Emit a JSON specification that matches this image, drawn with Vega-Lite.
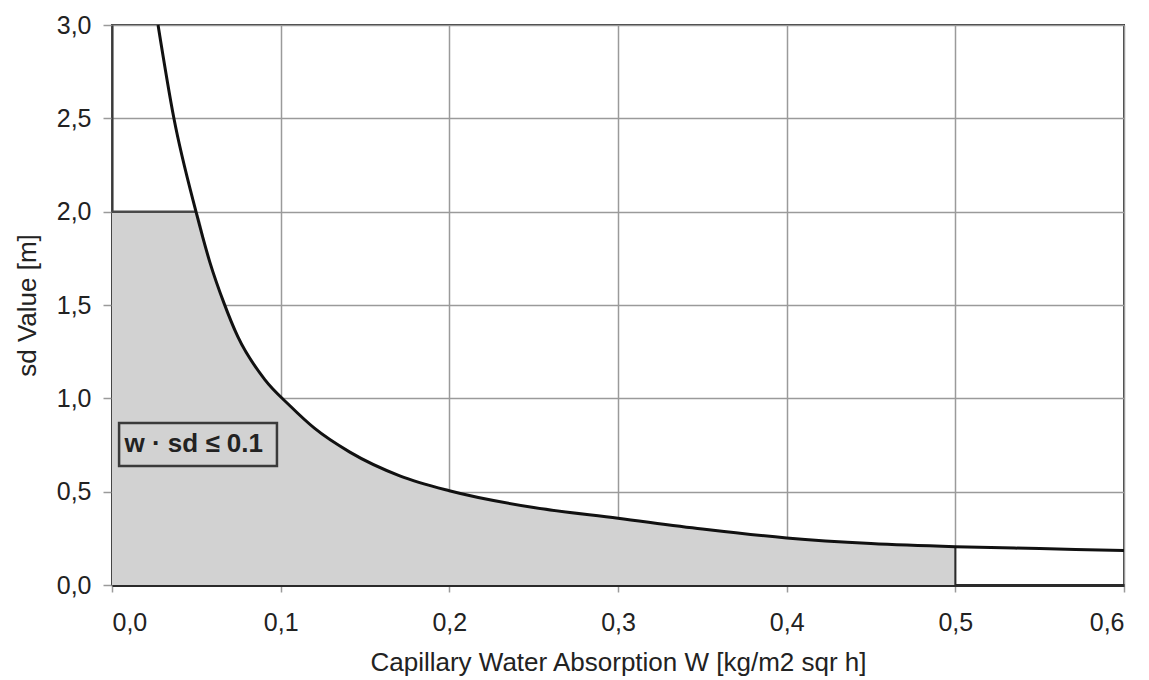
{
  "$schema": "https://vega.github.io/schema/vega-lite/v6.json",
  "width": 1012,
  "height": 560,
  "autosize": {"type": "none"},
  "padding": {"left": 112, "top": 25, "right": 25, "bottom": 95},
  "background": "white",
  "config": {
    "font": "Liberation Sans",
    "view": {"stroke": "#3a3a3a", "strokeWidth": 2},
    "axis": {
      "gridColor": "#9a9a9a",
      "gridWidth": 1.5,
      "gridOpacity": 1,
      "tickColor": "#9a9a9a",
      "tickWidth": 1.5,
      "tickSize": 8,
      "labelFont": "Liberation Sans",
      "labelFontSize": 25,
      "labelColor": "#222222",
      "titleFont": "Liberation Sans",
      "titleFontSize": 26,
      "titleFontWeight": "normal",
      "titleColor": "#222222"
    }
  },
  "datasets": {
    "curve": [
      {"w": 0.0273, "sd": 3.0},
      {"w": 0.0367, "sd": 2.5},
      {"w": 0.0498, "sd": 2.0},
      {"w": 0.058, "sd": 1.73},
      {"w": 0.0664, "sd": 1.51},
      {"w": 0.0746, "sd": 1.33},
      {"w": 0.0906, "sd": 1.1},
      {"w": 0.1055, "sd": 0.96},
      {"w": 0.12, "sd": 0.84},
      {"w": 0.141, "sd": 0.712},
      {"w": 0.1706, "sd": 0.585},
      {"w": 0.2, "sd": 0.505},
      {"w": 0.25, "sd": 0.415},
      {"w": 0.3, "sd": 0.358},
      {"w": 0.35, "sd": 0.3},
      {"w": 0.4, "sd": 0.252},
      {"w": 0.45, "sd": 0.222},
      {"w": 0.5, "sd": 0.205},
      {"w": 0.55, "sd": 0.195},
      {"w": 0.6, "sd": 0.185}
    ],
    "region": [
      {"w": 0.0, "sd": 2.0},
      {"w": 0.0498, "sd": 2.0},
      {"w": 0.058, "sd": 1.73},
      {"w": 0.0664, "sd": 1.51},
      {"w": 0.0746, "sd": 1.33},
      {"w": 0.0906, "sd": 1.1},
      {"w": 0.1055, "sd": 0.96},
      {"w": 0.12, "sd": 0.84},
      {"w": 0.141, "sd": 0.712},
      {"w": 0.1706, "sd": 0.585},
      {"w": 0.2, "sd": 0.505},
      {"w": 0.25, "sd": 0.415},
      {"w": 0.3, "sd": 0.358},
      {"w": 0.35, "sd": 0.3},
      {"w": 0.4, "sd": 0.252},
      {"w": 0.45, "sd": 0.222},
      {"w": 0.5, "sd": 0.205}
    ],
    "single": [{}]
  },
  "layer": [
    {
      "data": {"name": "region"},
      "mark": {"type": "area", "color": "#d2d2d2", "opacity": 1, "interpolate": "monotone"},
      "encoding": {
        "x": {
          "field": "w",
          "type": "quantitative",
          "scale": {"domain": [0, 0.6], "nice": false, "zero": false},
          "axis": {
            "values": [0, 0.1, 0.2, 0.3, 0.4, 0.5, 0.6],
            "labelExpr": "replace(format(datum.value, '.1f'), '.', ',')",
            "labelPadding": 18,
            "tickSize": 7,
            "domainColor": "#2a2a2a",
            "domainWidth": 3,
            "titlePadding": 14,
            "title": "Capillary Water Absorption W [kg/m2 sqr h]"
          }
        },
        "y": {
          "field": "sd",
          "type": "quantitative",
          "scale": {"domain": [0, 3], "nice": false},
          "axis": {
            "values": [0, 0.5, 1, 1.5, 2, 2.5, 3],
            "labelExpr": "replace(format(datum.value, '.1f'), '.', ',')",
            "labelPadding": 12,
            "tickSize": 9,
            "domainColor": "#3a3a3a",
            "domainWidth": 2,
            "titlePadding": 16,
            "title": "sd Value [m]"
          }
        }
      }
    },
    {
      "data": {"name": "single"},
      "mark": {"type": "rule", "color": "#4a4a4a", "strokeWidth": 2.5},
      "encoding": {
        "x": {"datum": 0},
        "x2": {"datum": 0.0498},
        "y": {"datum": 2.0}
      }
    },
    {
      "data": {"name": "single"},
      "mark": {"type": "rule", "color": "#2a2a2a", "strokeWidth": 2},
      "encoding": {
        "x": {"datum": 0.5},
        "y": {"datum": 0},
        "y2": {"datum": 0.205}
      }
    },
    {
      "data": {"name": "curve"},
      "mark": {"type": "line", "color": "#111111", "strokeWidth": 3, "interpolate": "monotone"},
      "encoding": {
        "x": {"field": "w", "type": "quantitative"},
        "y": {"field": "sd", "type": "quantitative"}
      }
    },
    {
      "data": {"name": "single"},
      "mark": {"type": "rect", "fill": "#d2d2d2", "stroke": "#3a3a3a", "strokeWidth": 2.5},
      "encoding": {
        "x": {"datum": 0.0042},
        "x2": {"datum": 0.0978},
        "y": {"datum": 0.6375},
        "y2": {"datum": 0.868}
      }
    },
    {
      "data": {"name": "single"},
      "mark": {
        "type": "text",
        "text": "w · sd ≤ 0.1",
        "font": "Liberation Sans",
        "fontSize": 26,
        "fontWeight": "bold",
        "color": "#222222",
        "align": "left",
        "baseline": "middle"
      },
      "encoding": {
        "x": {"datum": 0.0074},
        "y": {"datum": 0.753}
      }
    }
  ]
}
